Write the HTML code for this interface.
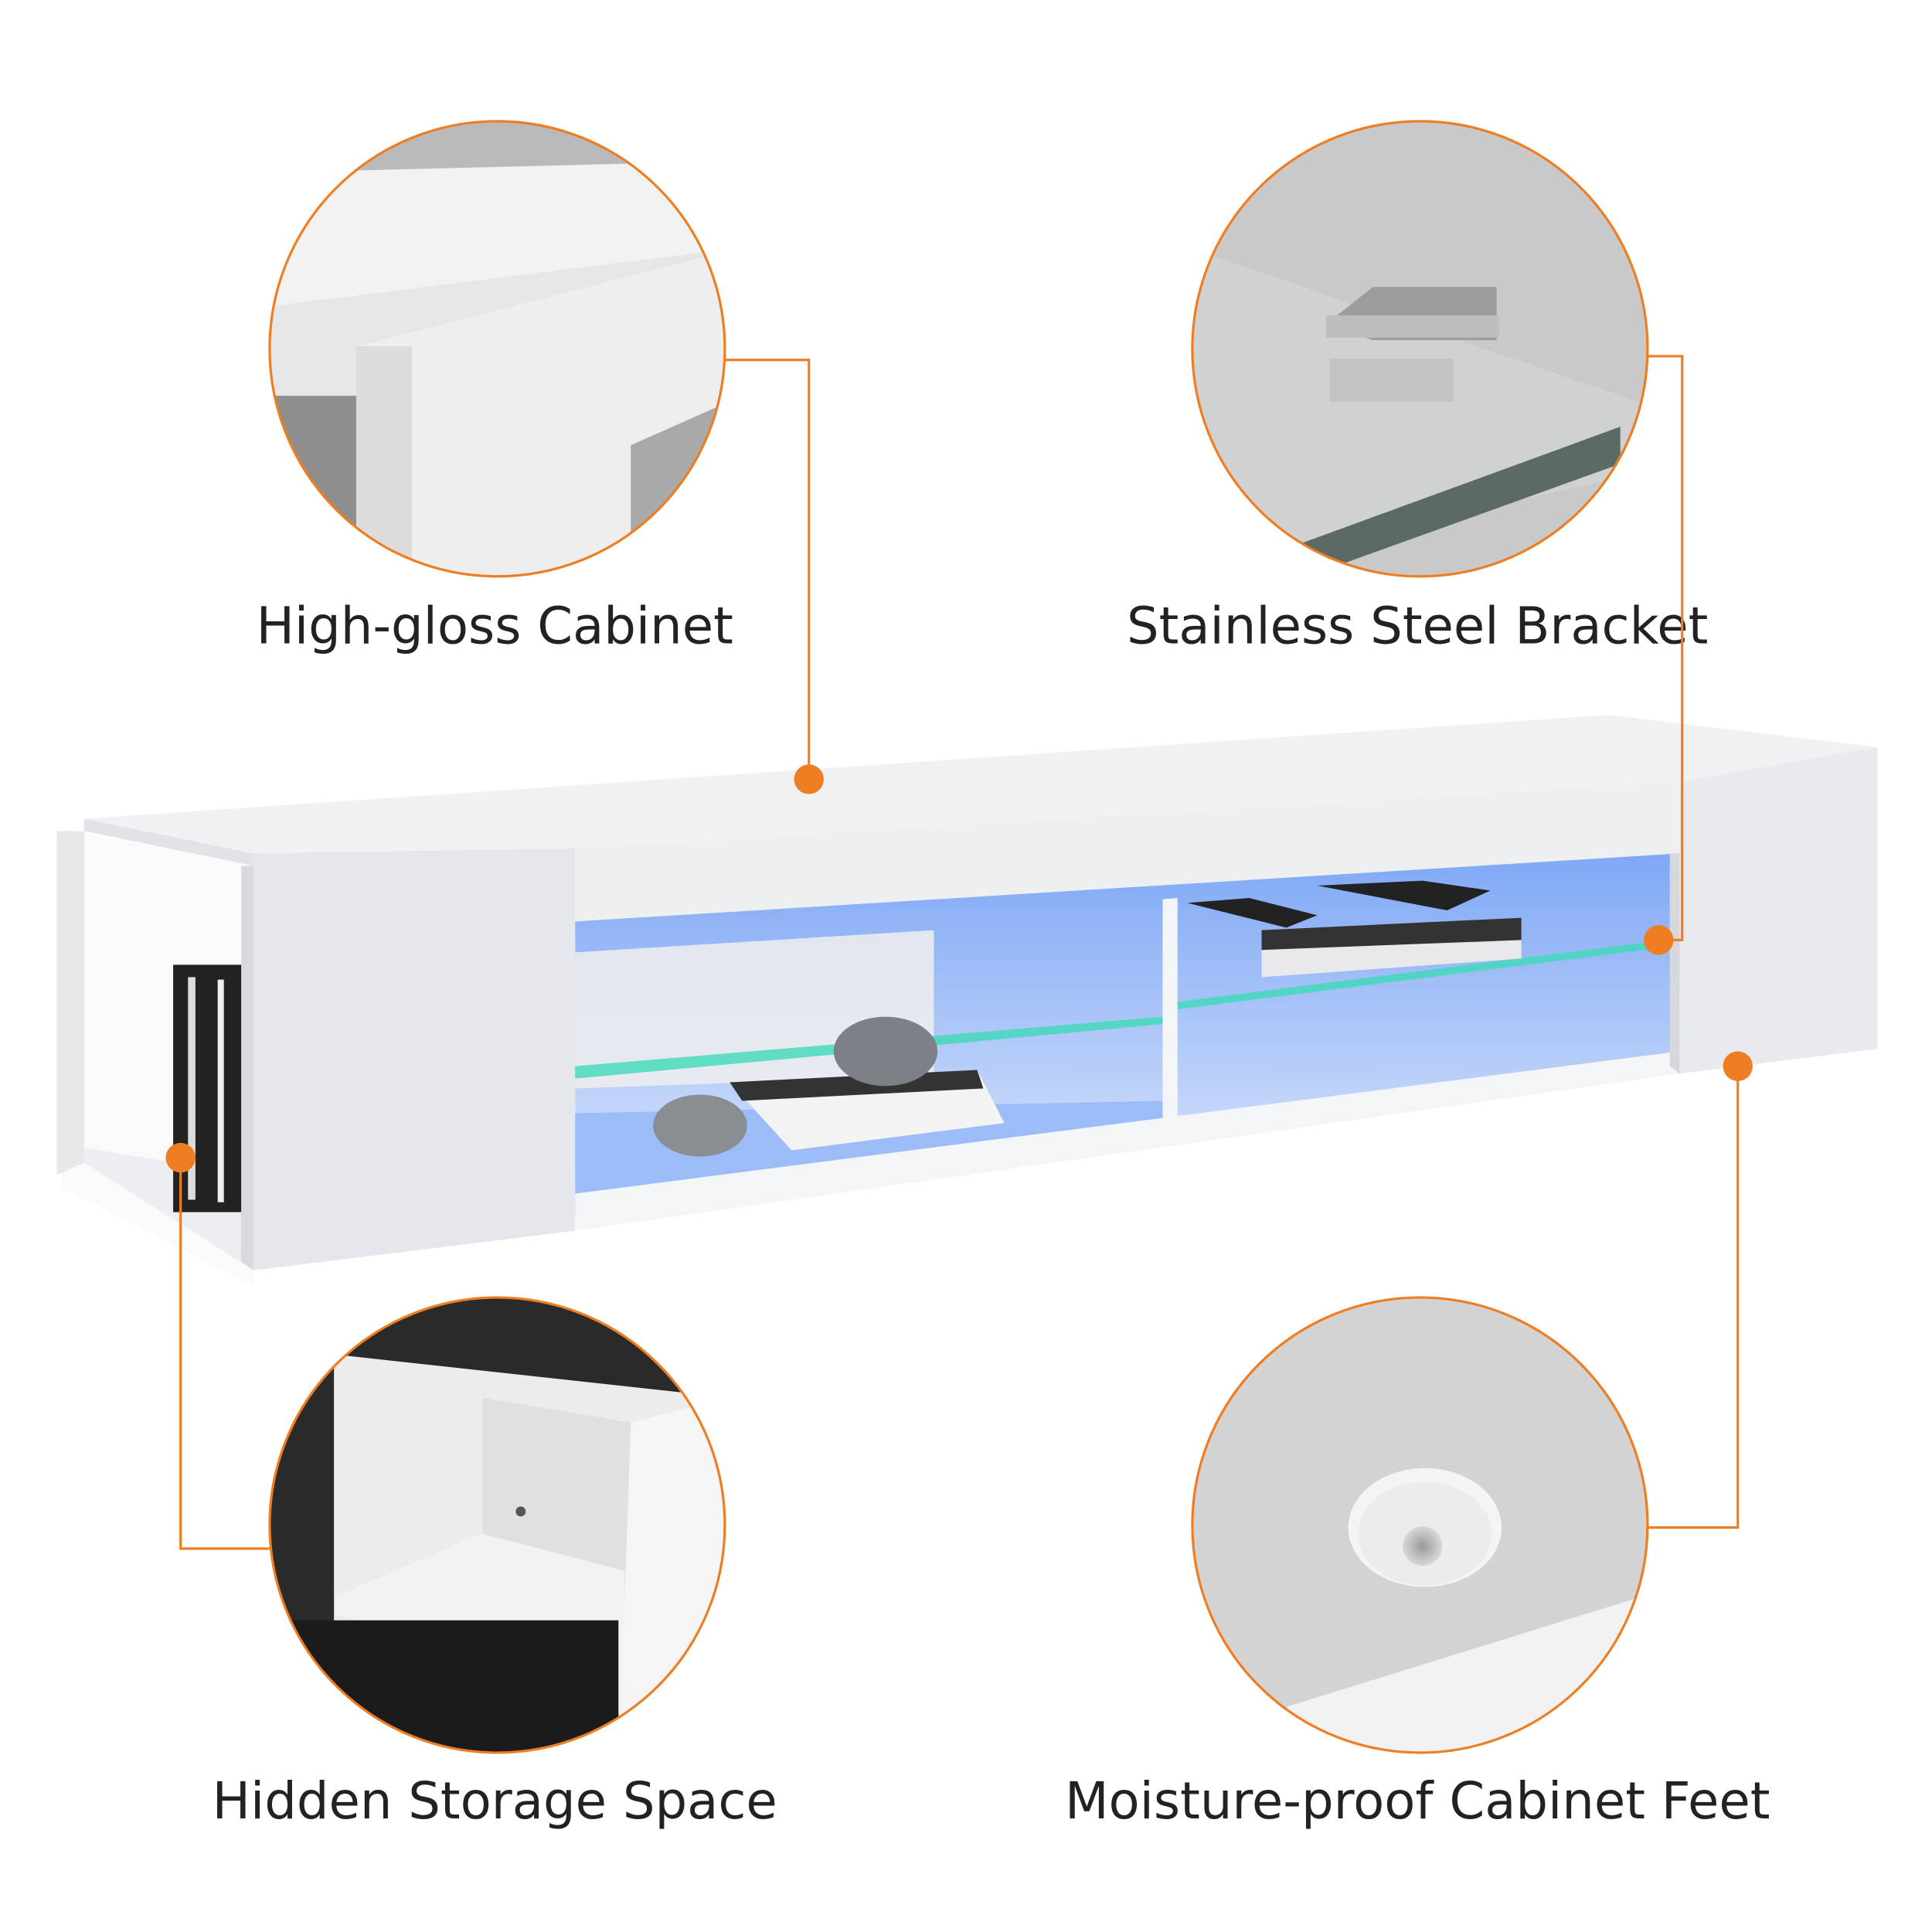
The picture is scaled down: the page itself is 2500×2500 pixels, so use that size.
<!DOCTYPE html>
<html><head><meta charset="utf-8"><style>
html,body{margin:0;padding:0;background:#fff;}
svg{display:block;}
text{font-family:"DejaVu Sans","Liberation Sans",sans-serif;fill:#222;}
</style></head><body>
<svg width="2500" height="2500" viewBox="0 0 1562 1562" xmlns="http://www.w3.org/2000/svg">
<defs>
<clipPath id="c1"><circle cx="402" cy="282" r="184"/></clipPath>
<clipPath id="c2"><circle cx="1148" cy="282" r="184"/></clipPath>
<clipPath id="c3"><circle cx="402" cy="1233" r="184"/></clipPath>
<clipPath id="c4"><circle cx="1148" cy="1233" r="184"/></clipPath>
<linearGradient id="blue" x1="0" y1="0" x2="0" y2="1"><stop offset="0" stop-color="#7fa8f5"/><stop offset="1" stop-color="#dfe8fb"/></linearGradient>
<radialGradient id="foot" cx="0.5" cy="0.5" r="0.5"><stop offset="0" stop-color="#9a9a9a"/><stop offset="1" stop-color="#d8d8d8"/></radialGradient>
</defs>
<rect width="1562" height="1562" fill="#fff"/>

<!-- Circle 1 -->
<g clip-path="url(#c1)">
<rect x="200" y="90" width="400" height="400" fill="#e6e6e6"/>
<rect x="200" y="90" width="400" height="50" fill="#b9b9b9"/>
<polygon points="200,140 600,130 600,200 200,250" fill="#f2f2f2"/>
<polygon points="288,280 600,200 600,330 510,360 510,470 288,470" fill="#eeeeee"/>
<rect x="288" y="280" width="45" height="190" fill="#dcdcdc"/>
<polygon points="510,360 600,320 600,470 510,470" fill="#a9a9a9"/>
<rect x="200" y="320" width="88" height="160" fill="#8e8e8e"/>
</g>
<circle cx="402" cy="282" r="184" fill="none" stroke="#ef7d22" stroke-width="2"/>

<!-- Circle 2 -->
<g clip-path="url(#c2)">
<rect x="960" y="90" width="380" height="400" fill="#c9c9c9"/>
<polygon points="960,200 1340,330 1340,380 1060,440 960,400" fill="#cfd2d1"/>
<polygon points="1050,440 1310,345 1310,375 1060,465" fill="#5c6a66"/>
<polygon points="1072,262 1110,232 1210,232 1210,275 1110,275" fill="#9d9d9d"/>
<rect x="1072" y="255" width="140" height="18" fill="#bdbdbd"/>
<rect x="1075" y="290" width="100" height="35" fill="#bfbfbf" opacity="0.8"/>
</g>
<circle cx="1148" cy="282" r="184" fill="none" stroke="#ef7d22" stroke-width="2"/>

<!-- Circle 3 -->
<g clip-path="url(#c3)">
<rect x="210" y="1040" width="390" height="400" fill="#2a2a2a"/>
<polygon points="270,1095 590,1130 590,1440 270,1440" fill="#ececec"/>
<polygon points="390,1130 510,1150 510,1380 390,1380" fill="#e0e0e0"/>
<polygon points="272,1290 390,1240 505,1270 505,1385 272,1305" fill="#f2f2f2"/>
<polygon points="510,1150 590,1130 590,1440 500,1440" fill="#f5f5f5"/>
<rect x="210" y="1310" width="290" height="130" fill="#1b1b1b"/>
<circle cx="421" cy="1222" r="4" fill="#555"/>
</g>
<circle cx="402" cy="1233" r="184" fill="none" stroke="#ef7d22" stroke-width="2"/>

<!-- Circle 4 -->
<g clip-path="url(#c4)">
<rect x="960" y="1040" width="380" height="400" fill="#d3d3d3"/>
<polygon points="1040,1380 1330,1290 1340,1440 1050,1440" fill="#f2f2f2"/>
<ellipse cx="1152" cy="1235" rx="62" ry="48" fill="#f4f4f4"/>
<ellipse cx="1152" cy="1240" rx="54" ry="42" fill="#ececec"/>
<circle cx="1150" cy="1250" r="16" fill="url(#foot)"/>
</g>
<circle cx="1148" cy="1233" r="184" fill="none" stroke="#ef7d22" stroke-width="2"/>

<!-- Labels -->
<text x="400" y="520" font-size="41" text-anchor="middle">High-gloss Cabinet</text>
<text x="1146" y="520" font-size="41" text-anchor="middle">Stainless Steel Bracket</text>
<text x="400" y="1470" font-size="41" text-anchor="middle">Hidden Storage Space</text>
<text x="1146" y="1470" font-size="41" text-anchor="middle">Moisture-proof Cabinet Feet</text>

<!-- TV stand -->
<polygon points="50,670 205,700 205,1040 50,960" fill="#fafafa"/>
<polygon points="46,672 68,672 68,940 46,950" fill="#e8e8e8"/>
<polygon points="68,662 1300,578 1518,604 1358,632 465,686 205,690" fill="#f0f1f3"/>
<polygon points="68,662 205,690 205,700 68,672" fill="#e2e3e6"/>
<polygon points="68,928 205,950 205,1027 68,940" fill="#eceef1"/>
<rect x="140" y="780" width="60" height="200" fill="#222"/>
<rect x="152" y="790" width="6" height="180" fill="#ddd"/>
<rect x="176" y="792" width="5" height="180" fill="#eee"/>
<polygon points="195,700 205,700 205,1027 195,1020" fill="#d9dadd"/>
<polygon points="205,690 465,686 465,995 205,1027" fill="#e5e6e9"/>
<polygon points="465,686 1358,632 1358,690 465,745" fill="#eeeff1"/>
<polygon points="465,745 1358,690 1358,855 465,985" fill="url(#blue)"/>
<polygon points="465,770 755,752 755,870 465,880" fill="#eeeeee" opacity="0.85"/>
<polygon points="465,900 940,890 940,910 465,985" fill="#9cbcf7"/>
<polygon points="465,965 1358,850 1358,868 465,995" fill="#f4f5f7"/>
<polygon points="940,727 952,726 952,905 940,908" fill="#f4f5f7"/>
<polygon points="465,862 940,822 940,828 465,872" fill="#3ed9b8" opacity="0.8"/>
<polygon points="952,810 1345,760 1345,766 952,816" fill="#3ed9b8" opacity="0.8"/>
<polygon points="1020,752 1230,742 1230,775 1020,790" fill="#e9e9ec"/>
<polygon points="1020,752 1230,742 1230,760 1020,768" fill="#333"/>
<polygon points="960,730 1010,726 1065,740 1040,750" fill="#222"/>
<polygon points="1065,716 1150,712 1205,720 1170,736" fill="#222"/>
<polygon points="590,875 790,865 812,908 640,930" fill="#f3f3f3"/>
<polygon points="590,875 790,865 795,880 600,890" fill="#333"/>
<ellipse cx="716" cy="850" rx="42" ry="28" fill="#7d8187"/>
<ellipse cx="566" cy="910" rx="38" ry="25" fill="#8a8d92"/>
<polygon points="1358,632 1518,604 1518,848 1358,868" fill="#e9eaed"/>
<polygon points="1350,690 1358,690 1358,868 1350,862" fill="#d7d8dc"/>

<!-- Connectors -->
<g stroke="#ef7d22" stroke-width="2" fill="none">
<polyline points="586,291 654,291 654,630"/>
<polyline points="1332,288 1360,288 1360,760 1341,760"/>
<polyline points="146,936 146,1252 218,1252"/>
<polyline points="1405,862 1405,1235 1332,1235"/>
</g>
<g fill="#ef7d22">
<circle cx="654" cy="630" r="12"/>
<circle cx="1341" cy="760" r="12"/>
<circle cx="146" cy="936" r="12"/>
<circle cx="1405" cy="862" r="12"/>
</g>
</svg>
</body></html>
